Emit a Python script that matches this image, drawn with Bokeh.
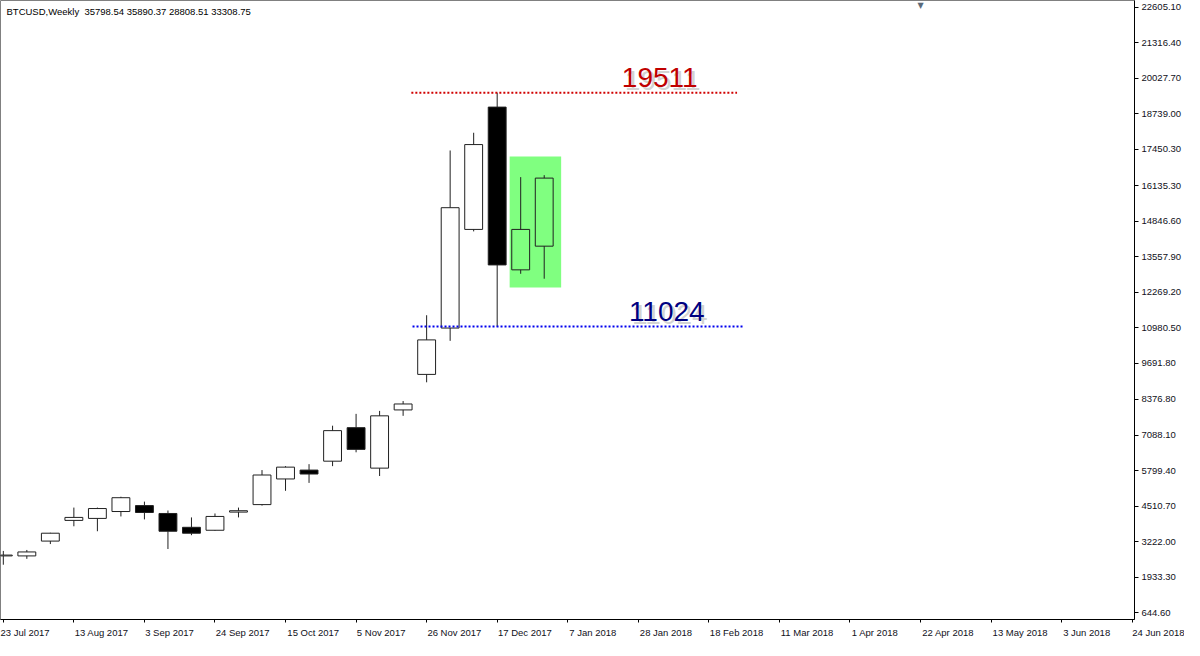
from bokeh.plotting import figure
from bokeh.models import Range1d, FixedTicker, Label, NumeralTickFormatter, ColumnDataSource
from bokeh.embed import file_html
from bokeh.resources import INLINE

# ---------------- data ----------------
weeks = ["23 Jul 2017", "30 Jul 2017", "6 Aug 2017", "13 Aug 2017", "20 Aug 2017", "27 Aug 2017",
         "3 Sep 2017", "10 Sep 2017", "17 Sep 2017", "24 Sep 2017", "1 Oct 2017", "8 Oct 2017",
         "15 Oct 2017", "22 Oct 2017", "29 Oct 2017", "5 Nov 2017", "12 Nov 2017", "19 Nov 2017",
         "26 Nov 2017", "3 Dec 2017", "10 Dec 2017", "17 Dec 2017", "24 Dec 2017", "31 Dec 2017"]
open_ = [2700, 2700, 3238, 3989, 4061, 4311, 4526, 4240, 3738, 3631, 4290, 4562,
         5493, 5815, 6138, 7354, 5886, 7998, 9288, 10970, 14550, 18989, 13082, 13942]
high = [2880, 2916, 3540, 4454, 4454, 4848, 4670, 4347, 4097, 4240, 4454, 5815,
        5958, 6030, 7426, 7855, 7963, 8321, 11435, 17414, 18058, 19511, 16448, 16519]
low = [2380, 2593, 3130, 3775, 3595, 4132, 4025, 2951, 3452, 3610, 4097, 4526,
       5063, 5350, 5958, 6460, 5600, 7784, 9001, 10505, 14478, 11024, 12939, 12760]
close = [2730, 2844, 3524, 4097, 4419, 4812, 4275, 3595, 3524, 4132, 4340, 5636,
         5922, 5672, 7247, 6567, 7784, 8214, 10540, 15338, 17629, 13261, 14550, 16412]

header = "BTCUSD,Weekly\u00a0\u00a035798.54 35890.37 28808.51 33308.75"

x_tick_labels = ["23 Jul 2017", "13 Aug 2017", "3 Sep 2017", "24 Sep 2017", "15 Oct 2017",
                 "5 Nov 2017", "26 Nov 2017", "17 Dec 2017", "7 Jan 2018", "28 Jan 2018",
                 "18 Feb 2018", "11 Mar 2018", "1 Apr 2018", "22 Apr 2018", "13 May 2018",
                 "3 Jun 2018", "24 Jun 2018"]
x_tick_pos = [3 * k for k in range(len(x_tick_labels))]
y_ticks = [22605.10, 21316.40, 20027.70, 18739.00, 17450.30, 16135.30, 14846.60, 13557.90,
           12269.20, 10980.50, 9691.80, 8376.80, 7088.10, 5799.40, 4510.70, 3222.00,
           1933.30, 644.60]

# horizontal levels (price, start week index, end week index)
level_prices = [19511, 11024]
level_start = [17.35, 17.4]
level_end = [31.2, 31.45]
level_colors = ["#d00000", "#0000ee"]
level_text_colors = ["#c00000", "#000080"]
level_text_x = [26.3, 26.6]

# highlight box (week index range, price range)
box_left, box_right = 21.53, 23.72
box_top, box_bottom = 17200, 12440

# ---------------- figure ----------------
FONT = "Liberation Sans"
X0, X1 = -0.12, 48.1
Y0, Y1 = 392, 22858
p = figure(width=1184, height=640, output_backend="svg", toolbar_location=None,
           x_range=Range1d(X0, X1), y_range=Range1d(Y0, Y1),
           y_axis_location="right", min_border_left=0, min_border_top=0,
           min_border_right=0, min_border_bottom=0)
p.background_fill_color = "white"
p.border_fill_color = "white"
p.xgrid.visible = False
p.ygrid.visible = False
p.outline_line_color = "#808080"
p.outline_line_width = 1

# x axis: labels start at their tick (MT4 style) -> pad on the left so the
# centred axis label begins at the tick
_w = {" ": 0.278, "J": 0.5, "u": 0.556, "l": 0.222, "A": 0.667, "g": 0.556, "S": 0.667,
      "e": 0.556, "p": 0.556, "O": 0.778, "c": 0.5, "t": 0.278, "N": 0.722, "o": 0.556,
      "v": 0.5, "D": 0.722, "a": 0.556, "n": 0.556, "F": 0.611, "b": 0.556, "M": 0.833,
      "r": 0.333, "y": 0.5, "P": 0.667}


def left_pad(s):
    w = sum(_w.get(ch, 0.556) for ch in s)
    return "\u00a0" * (int(round(w / 0.278)) + 1) + s


overrides = {}
for k, (t, lab) in enumerate(zip(x_tick_pos, x_tick_labels)):
    overrides[t] = lab if k == 0 else left_pad(lab)

p.xaxis.ticker = FixedTicker(ticks=x_tick_pos)
p.xaxis.major_label_overrides = overrides
p.xaxis.major_tick_out = 3
p.xaxis.major_tick_in = 0
p.xaxis.minor_tick_line_color = None
p.xaxis.major_label_standoff = 4
p.xaxis.major_label_text_font = FONT
p.xaxis.major_label_text_font_size = "9.5px"
p.xaxis.major_label_text_color = "#101020"
p.xaxis.axis_line_color = "black"
p.xaxis.major_tick_line_color = "black"

# y axis (right)
p.yaxis.ticker = FixedTicker(ticks=y_ticks)
p.yaxis.formatter = NumeralTickFormatter(format="0.00")
p.yaxis.major_tick_out = 4
p.yaxis.major_tick_in = 0
p.yaxis.minor_tick_line_color = None
p.yaxis.major_label_standoff = 3
p.yaxis.major_label_text_font = FONT
p.yaxis.major_label_text_font_size = "9.5px"
p.yaxis.major_label_text_color = "#101020"
p.yaxis.axis_line_color = "black"
p.yaxis.major_tick_line_color = "black"

# highlight box
p.quad(left=[box_left], right=[box_right], top=[box_top], bottom=[box_bottom],
       fill_color="#80ff80", line_color=None)

# candles
idx = list(range(len(open_)))
body_top = [max(o, c) for o, c in zip(open_, close)]
body_bot = [min(o, c) for o, c in zip(open_, close)]
fill_alpha = [0.0 if c >= o else 1.0 for o, c in zip(open_, close)]
src = ColumnDataSource(dict(x=idx, high=high, low=low, top=body_top, bottom=body_bot,
                            fa=fill_alpha, week=weeks))
p.segment(x0="x", y0="high", x1="x", y1="top", source=src, line_color="#202020", line_width=1)
p.segment(x0="x", y0="bottom", x1="x", y1="low", source=src, line_color="#202020", line_width=1)
p.vbar(x="x", width=0.76, top="top", bottom="bottom", source=src,
       fill_color="black", fill_alpha="fa", line_color="#202020", line_width=1)

# levels
for pr, x0, x1, col in zip(level_prices, level_start, level_end, level_colors):
    p.segment(x0=[x0], y0=[pr], x1=[x1], y1=[pr], line_color=col, line_width=2,
              line_dash="2 2")

for pr, tx, tcol in zip(level_prices, level_text_x, level_text_colors):
    shadow = Label(x=tx, y=pr, text=str(pr), x_offset=3, y_offset=12,
                   text_font=FONT, text_font_size="28px", text_color="#8a8a8a",
                   text_alpha=0.4, text_baseline="alphabetic", text_align="left")
    lab = Label(x=tx, y=pr, text=str(pr), x_offset=0, y_offset=15,
                text_font=FONT, text_font_size="28px", text_color=tcol,
                text_baseline="alphabetic", text_align="left")
    p.add_layout(shadow)
    p.add_layout(lab)

# header text
p.add_layout(Label(x=X0, y=Y1, text=header, x_offset=6, y_offset=-5,
                   text_font=FONT, text_font_size="9.5px", text_color="black",
                   text_baseline="top", text_align="left"))
# chart shift marker
p.add_layout(Label(x=39.0, y=Y1, text="\u25bc", x_offset=0, y_offset=0,
                   text_font="DejaVu Sans", text_font_size="8px", text_color="#5a6a7a",
                   text_baseline="top", text_align="center"))

open("out.html", "w").write(file_html(p, INLINE))
